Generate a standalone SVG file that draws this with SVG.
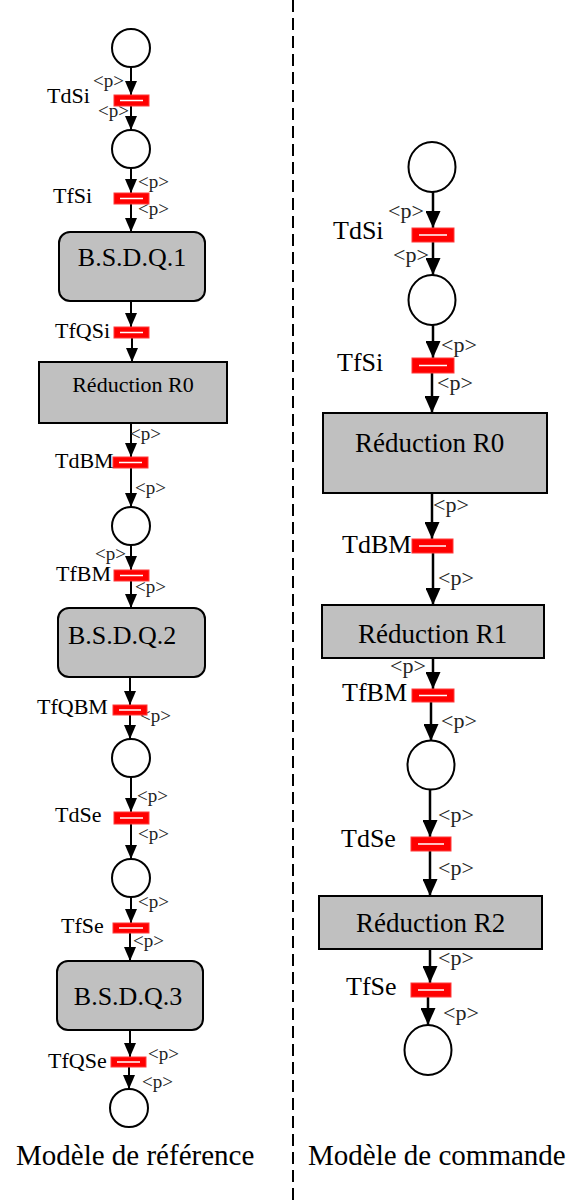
<svg xmlns="http://www.w3.org/2000/svg" width="569" height="1203" viewBox="0 0 569 1203" font-family="Liberation Serif, DejaVu Serif, serif">
<style>
.pl{fill:#fff;stroke:#000;stroke-width:2}
.tr{fill:#f00;stroke:#ff3a3a;stroke-width:1}
.tw{stroke:#fff;stroke-width:1.5}
.box{fill:#c0c0c0;stroke:#000;stroke-width:2}
.ln{stroke:#000;stroke-width:2;fill:none}
.lnR{stroke:#000;stroke-width:2.5;fill:none}
.lb,.lbR,.p,.pR,.bx,.bxr,.bxR,.ttl{font-family:'Liberation Serif','DejaVu Serif',serif}
.lb{font-size:22px;fill:#000}
.lbR{font-size:26px;fill:#000}
.p{font-size:19px;fill:#222}
.pR{font-size:22px;fill:#222}
.bx{font-size:26px;fill:#000}
.bxr{font-size:22px;fill:#000}
.bxR{font-size:27px;fill:#000}
.ttl{font-size:29px;fill:#000}
</style>
<defs>
<marker id="aL" viewBox="0 0 14 12" refX="14" refY="6" markerWidth="14" markerHeight="12" markerUnits="userSpaceOnUse" orient="auto"><path d="M0,0 L14,6 L0,12 z" fill="#000"/></marker>
<marker id="aR" viewBox="0 0 17 15" refX="17" refY="7.5" markerWidth="17" markerHeight="15" markerUnits="userSpaceOnUse" orient="auto"><path d="M0,0 L17,7.5 L0,15 z" fill="#000"/></marker>
</defs>

<g id="separator"><line x1="293" y1="0" x2="293" y2="1203" stroke="#000" stroke-width="2" stroke-dasharray="12,6"/></g>

<g id="connectors">
<g class="ln" marker-end="url(#aL)">
<line x1="131" y1="67" x2="131" y2="95"/>
<line x1="131" y1="106" x2="131" y2="130"/>
<line x1="131" y1="168" x2="131" y2="193"/>
<line x1="131" y1="204" x2="131" y2="232"/>
<line x1="131" y1="301" x2="131" y2="327"/>
<line x1="132" y1="338" x2="132" y2="362"/>
<line x1="131" y1="423" x2="131" y2="457"/>
<line x1="131" y1="468" x2="131" y2="507"/>
<line x1="131" y1="545" x2="131" y2="570"/>
<line x1="131" y1="581" x2="131" y2="608"/>
<line x1="130" y1="677" x2="130" y2="705"/>
<line x1="130" y1="715" x2="130" y2="739"/>
<line x1="131" y1="777" x2="131" y2="812"/>
<line x1="131" y1="824" x2="131" y2="859"/>
<line x1="131" y1="897" x2="131" y2="923"/>
<line x1="130" y1="933" x2="130" y2="961"/>
<line x1="130" y1="1030" x2="130" y2="1057"/>
<line x1="129" y1="1067" x2="129" y2="1089"/>
</g>
<g class="lnR" marker-end="url(#aR)">
<line x1="433" y1="192" x2="433" y2="228"/>
<line x1="433" y1="242" x2="433" y2="275"/>
<line x1="433" y1="325" x2="433" y2="358"/>
<line x1="432" y1="373" x2="432" y2="413"/>
<line x1="432" y1="493" x2="432" y2="539"/>
<line x1="433" y1="553" x2="433" y2="605"/>
<line x1="433" y1="658" x2="433" y2="689"/>
<line x1="431" y1="702" x2="431" y2="741"/>
<line x1="430" y1="790" x2="430" y2="837"/>
<line x1="430" y1="851" x2="430" y2="896"/>
<line x1="430" y1="949" x2="430" y2="983"/>
<line x1="428" y1="997" x2="428" y2="1025"/>
</g>
<g id="arc-labels">
<text class="p" x="93" y="87">&lt;p&gt;</text>
<text class="p" x="98" y="117">&lt;p&gt;</text>
<text class="p" x="138" y="188">&lt;p&gt;</text>
<text class="p" x="138" y="215">&lt;p&gt;</text>
<text class="p" x="130" y="440">&lt;p&gt;</text>
<text class="p" x="135" y="494">&lt;p&gt;</text>
<text class="p" x="95" y="560">&lt;p&gt;</text>
<text class="p" x="135" y="593">&lt;p&gt;</text>
<text class="p" x="140" y="722">&lt;p&gt;</text>
<text class="p" x="137" y="802">&lt;p&gt;</text>
<text class="p" x="138" y="840">&lt;p&gt;</text>
<text class="p" x="138" y="908">&lt;p&gt;</text>
<text class="p" x="133" y="947">&lt;p&gt;</text>
<text class="p" x="148" y="1060">&lt;p&gt;</text>
<text class="p" x="142" y="1088">&lt;p&gt;</text>
<text class="pR" x="388" y="218">&lt;p&gt;</text>
<text class="pR" x="393" y="262">&lt;p&gt;</text>
<text class="pR" x="441" y="352">&lt;p&gt;</text>
<text class="pR" x="437" y="390">&lt;p&gt;</text>
<text class="pR" x="433" y="512">&lt;p&gt;</text>
<text class="pR" x="438" y="585">&lt;p&gt;</text>
<text class="pR" x="390" y="673">&lt;p&gt;</text>
<text class="pR" x="441" y="728">&lt;p&gt;</text>
<text class="pR" x="438" y="822">&lt;p&gt;</text>
<text class="pR" x="438" y="875">&lt;p&gt;</text>
<text class="pR" x="438" y="965">&lt;p&gt;</text>
<text class="pR" x="443" y="1020">&lt;p&gt;</text>
</g>
</g>

<g id="L_P1"><circle class="pl" cx="131" cy="48" r="19"/></g>
<g id="L_TdSi"><rect class="tr" x="114" y="95" width="35" height="11"/><line class="tw" x1="120" y1="100.5" x2="143" y2="100.5"/><text class="lb" x="47" y="103">TdSi</text></g>
<g id="L_P2"><circle class="pl" cx="131" cy="149" r="19"/></g>
<g id="L_TfSi"><rect class="tr" x="114" y="193" width="35" height="11"/><line class="tw" x1="120" y1="198.5" x2="143" y2="198.5"/><text class="lb" x="53" y="203">TfSi</text></g>
<g id="L_BSDQ1"><rect class="box" x="59" y="232" width="146" height="69" rx="11"/><text class="bx" x="132" y="266" text-anchor="middle">B.S.D.Q.1</text></g>
<g id="L_TfQSi"><rect class="tr" x="114" y="327" width="35" height="11"/><line class="tw" x1="120" y1="332.5" x2="143" y2="332.5"/><text class="lb" x="55" y="338">TfQSi</text></g>
<g id="L_R0"><rect class="box" x="39" y="362" width="188" height="61"/><text class="bxr" x="133" y="392" text-anchor="middle">Réduction R0</text></g>
<g id="L_TdBM"><rect class="tr" x="113" y="457" width="35" height="11"/><line class="tw" x1="119" y1="462.5" x2="142" y2="462.5"/><text class="lb" x="55" y="468">TdBM</text></g>
<g id="L_P3"><circle class="pl" cx="131" cy="526" r="19"/></g>
<g id="L_TfBM"><rect class="tr" x="114" y="570" width="35" height="11"/><line class="tw" x1="120" y1="575.5" x2="143" y2="575.5"/><text class="lb" x="56" y="581">TfBM</text></g>
<g id="L_BSDQ2"><rect class="box" x="58" y="608" width="147" height="69" rx="11"/><text class="bx" x="68" y="644">B.S.D.Q.2</text></g>
<g id="L_TfQBM"><rect class="tr" x="113" y="705" width="34" height="10"/><line class="tw" x1="119" y1="710" x2="141" y2="710"/><text class="lb" x="37" y="714">TfQBM</text></g>
<g id="L_P4"><circle class="pl" cx="131" cy="758" r="19"/></g>
<g id="L_TdSe"><rect class="tr" x="114" y="812" width="35" height="12"/><line class="tw" x1="120" y1="818" x2="143" y2="818"/><text class="lb" x="55" y="822">TdSe</text></g>
<g id="L_P5"><circle class="pl" cx="131" cy="878" r="19"/></g>
<g id="L_TfSe"><rect class="tr" x="113" y="923" width="36" height="10"/><line class="tw" x1="119" y1="928" x2="143" y2="928"/><text class="lb" x="61" y="933">TfSe</text></g>
<g id="L_BSDQ3"><rect class="box" x="57" y="961" width="146" height="69" rx="11"/><text class="bx" x="128" y="1005" text-anchor="middle">B.S.D.Q.3</text></g>
<g id="L_TfQSe"><rect class="tr" x="111" y="1057" width="35" height="10"/><line class="tw" x1="117" y1="1062" x2="140" y2="1062"/><text class="lb" x="48" y="1068">TfQSe</text></g>
<g id="L_P6"><circle class="pl" cx="129" cy="1108" r="19"/></g>
<g id="L_title"><text class="ttl" x="16" y="1165">Modèle de référence</text></g>

<g id="R_P1"><ellipse class="pl" cx="432" cy="167" rx="23.5" ry="25"/></g>
<g id="R_TdSi"><rect class="tr" x="412" y="228" width="42" height="14"/><line class="tw" x1="419" y1="235" x2="447" y2="235"/><text class="lbR" x="333" y="239">TdSi</text></g>
<g id="R_P2"><ellipse class="pl" cx="432" cy="300" rx="23.5" ry="25"/></g>
<g id="R_TfSi"><rect class="tr" x="412" y="358" width="42" height="15"/><line class="tw" x1="419" y1="365.5" x2="447" y2="365.5"/><text class="lbR" x="337" y="371">TfSi</text></g>
<g id="R_R0"><rect class="box" x="323" y="413" width="224" height="80"/><text class="bxR" x="355" y="452">Réduction R0</text></g>
<g id="R_TdBM"><rect class="tr" x="412" y="539" width="41" height="14"/><line class="tw" x1="419" y1="546" x2="446" y2="546"/><text class="lbR" x="342" y="553">TdBM</text></g>
<g id="R_R1"><rect class="box" x="322" y="605" width="222" height="53"/><text class="bxR" x="358" y="643">Réduction R1</text></g>
<g id="R_TfBM"><rect class="tr" x="412" y="689" width="42" height="13"/><line class="tw" x1="419" y1="695.5" x2="447" y2="695.5"/><text class="lbR" x="342" y="701">TfBM</text></g>
<g id="R_P3"><ellipse class="pl" cx="431" cy="765" rx="23.5" ry="24.5"/></g>
<g id="R_TdSe"><rect class="tr" x="411" y="837" width="40" height="14"/><line class="tw" x1="418" y1="844" x2="444" y2="844"/><text class="lbR" x="341" y="847">TdSe</text></g>
<g id="R_R2"><rect class="box" x="319" y="896" width="223" height="53"/><text class="bxR" x="356" y="932">Réduction R2</text></g>
<g id="R_TfSe"><rect class="tr" x="411" y="983" width="40" height="14"/><line class="tw" x1="418" y1="990" x2="444" y2="990"/><text class="lbR" x="346" y="995">TfSe</text></g>
<g id="R_P4"><ellipse class="pl" cx="428" cy="1050" rx="23.5" ry="25"/></g>
<g id="R_title"><text class="ttl" x="308" y="1165">Modèle de commande</text></g>
</svg>
